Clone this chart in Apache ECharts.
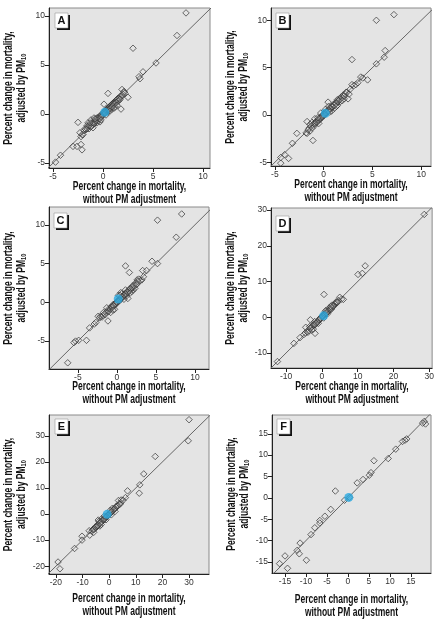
<!DOCTYPE html>
<html><head><meta charset="utf-8">
<script src="https://cdn.jsdelivr.net/npm/echarts@6/dist/echarts.min.js"></script>
<style>html,body{margin:0;padding:0;background:#fff}#c{width:437px;height:619px}</style>
</head><body><div id="c"></div>
<script>
// ---------- DATA ----------
const panelLabels = ['A', 'B', 'C', 'D', 'E', 'F'];

const ticksA = [-5, 0, 5, 10];
const ticksB = [-5, 0, 5, 10];
const ticksC = [-5, 0, 5, 10];
const ticksD = [-10, 0, 10, 20, 30];
const ticksE = [-20, -10, 0, 10, 20, 30];
const ticksF = [-15, -10, -5, 0, 5, 10, 15];

// points: [without PM adjustment, adjusted by PM10]
const pointsA = [
  [8.3,10.3],[7.4,8.0],[3.0,6.7],[5.3,5.2],[4.0,4.3],[3.6,3.8],[3.7,3.6],[2.5,1.7],[1.8,0.5],[0.5,2.1],
  [1.9,2.5],[2.1,2.3],[0.1,1.0],[-2.5,-0.85],[-1.5,-0.9],[-2.1,-2.1],[-2.2,-2.3],[-3.0,-3.3],[-2.6,-3.3],
  [-2.2,-3.1],[-2.1,-3.65],[-4.25,-4.2],[-4.75,-4.9],
  [-1.9,-1.7],[-1.7,-1.6],[-1.5,-1.3],[-1.4,-1.5],[-1.3,-1.1],[-1.2,-1.2],[-1.1,-0.9],[-1.0,-1.1],[-0.9,-0.8],
  [-0.8,-0.7],[-0.8,-0.9],[-0.7,-0.5],[-0.6,-0.6],[-0.5,-0.4],[-0.5,-0.7],[-0.4,-0.3],[-0.3,-0.2],[-0.3,-0.5],
  [-0.2,-0.1],[-0.1,-0.2],[0.0,0.1],[0.0,-0.1],[0.1,0.0],[0.2,0.3],[0.3,0.2],[0.4,0.5],[0.4,0.3],[0.5,0.6],
  [0.6,0.4],[0.6,0.7],[0.7,0.8],[0.8,0.6],[0.8,0.9],[0.9,1.0],[1.0,0.8],[1.0,1.1],[1.1,1.2],[1.2,1.0],
  [1.3,1.4],[1.4,1.3],[1.5,1.6],[1.6,1.4],[1.7,1.8],[1.8,1.7],[2.0,2.0],[2.2,2.1],[-2.0,-2.1],[-1.6,-1.2],
  [-1.2,-0.6],[-0.9,-0.4],[0.5,0.2],[0.9,0.5],[1.2,0.7],[0.3,-0.1],[-0.6,-0.9],[-0.3,-0.8],[-2.3,-1.9],[-1.0,-1.4],
  [-1.8,-1.5],[-1.6,-1.5],[-1.4,-1.2],[-1.2,-1.3],[-1.0,-0.9],[-0.9,-1.0],[-0.7,-0.7],[-0.6,-0.4],[-0.4,-0.5],
  [-0.2,-0.3],[0.1,0.2],[0.2,0.1],[0.3,0.4],[0.5,0.4],[0.6,0.5],[0.7,0.6],[0.8,0.7],[0.9,0.7],[1.0,0.9],
  [1.1,1.0],[1.2,1.2],[1.3,1.2],[1.4,1.5],[1.5,1.3],[1.6,1.6],[1.7,1.5],[1.9,1.9],[2.1,2.2],[-1.3,-0.9],
  [-0.8,-0.5],[-0.2,-0.6],[0.7,0.3],[1.1,0.6],[1.4,0.9]
];
const pointsB = [
  [7.2,10.6],[5.4,10.0],[2.9,5.85],[6.3,6.8],[6.2,6.1],[5.4,5.4],[4.5,3.7],[3.8,4.0],[4.0,3.9],[2.9,3.2],
  [2.5,1.7],[2.1,1.7],[1.4,1.0],[0.45,1.35],[-1.7,-0.7],[-2.75,-1.95],[-1.7,-1.95],[-1.4,-1.7],[-1.1,-2.7],
  [-3.2,-3.0],[-4.0,-4.2],[-3.6,-4.6],[-4.4,-4.5],[-4.4,-5.1],
  [-1.8,-1.9],[-1.5,-1.4],[-1.3,-1.2],[-1.1,-1.0],[-1.0,-1.2],[-0.9,-0.8],[-0.8,-0.9],[-0.7,-0.6],[-0.6,-0.7],
  [-0.5,-0.4],[-0.4,-0.5],[-0.3,-0.2],[-0.2,-0.3],[-0.1,0.0],[0.0,-0.1],[0.1,0.2],[0.2,0.1],[0.3,0.4],
  [0.4,0.3],[0.5,0.5],[0.6,0.7],[0.7,0.6],[0.8,0.9],[0.9,0.8],[1.0,1.1],[1.1,1.0],[1.2,1.3],[1.3,1.2],
  [1.5,1.5],[1.6,1.7],[1.8,1.9],[2.0,2.1],[2.2,2.2],[2.4,2.4],[1.7,1.4],[1.1,0.7],[0.8,0.4],[0.5,0.9],
  [-0.3,0.2],[-0.9,-0.4],[-1.2,-0.8],[-0.5,-0.9],[0.2,0.6],[1.4,1.6],[2.7,2.7],[3.1,3.1],
  [-1.6,-1.6],[-1.2,-1.4],[-0.95,-0.95],[-0.75,-0.75],[-0.55,-0.55],[-0.35,-0.35],[-0.15,-0.15],[0.05,0.05],
  [0.25,0.25],[0.45,0.4],[0.65,0.65],[0.85,0.85],[1.05,1.0],[1.25,1.2],[1.45,1.4],[1.65,1.6],[1.9,1.8],
  [2.1,2.0],[2.3,2.4],[1.9,1.5],[1.3,0.9],[0.6,0.3],[-0.6,-0.3],[-1.4,-1.0],[2.6,2.2],[3.3,3.2],[3.5,3.4]
];
const pointsC = [
  [8.3,11.4],[5.2,10.6],[7.6,8.4],[4.5,5.3],[5.2,5.0],[1.1,4.7],[1.6,3.85],[3.3,4.1],[3.8,4.1],[3.2,2.9],
  [2.6,2.9],[2.1,1.6],[1.4,0.5],[0.5,1.25],[-1.15,-2.4],[-2.4,-1.8],[-2.1,-1.8],[-3.5,-3.3],[-2.9,-2.8],
  [-3.9,-4.9],[-4.9,-4.9],[-5.3,-5.0],[-5.5,-5.2],[-6.3,-7.8],
  [-2.2,-2.0],[-1.9,-1.9],[-1.6,-1.5],[-1.4,-1.3],[-1.2,-1.1],[-1.0,-0.8],[-0.9,-1.0],[-0.7,-0.6],[-0.6,-0.7],
  [-0.5,-0.3],[-0.4,-0.5],[-0.2,-0.1],[-0.1,-0.2],[0.0,0.1],[0.1,0.0],[0.3,0.2],[0.4,0.5],[0.5,0.4],[0.6,0.7],
  [0.7,0.6],[0.8,0.9],[0.9,0.8],[1.0,1.1],[1.2,1.0],[1.3,1.4],[1.5,1.3],[1.6,1.7],[1.8,1.6],[2.0,2.1],
  [2.2,2.0],[2.4,2.5],[2.6,2.4],[2.8,3.0],[3.0,2.8],[1.9,1.4],[1.2,0.8],[0.6,1.1],[-0.8,-1.3],[-1.3,-0.7],
  [0.2,0.9],[1.1,1.6],[2.3,1.8],[-0.3,-0.9],[0.9,0.4],
  [-1.8,-1.7],[-1.5,-1.6],[-1.1,-1.2],[-0.85,-0.85],[-0.65,-0.55],[-0.45,-0.45],[-0.25,-0.25],[-0.05,0.0],
  [0.15,0.15],[0.35,0.3],[0.55,0.55],[0.75,0.75],[0.95,0.95],[1.15,1.15],[1.35,1.3],[1.55,1.5],[1.75,1.8],
  [1.95,1.9],[2.15,2.2],[2.5,2.3],[2.7,2.7],[1.7,1.2],[0.4,0.9],[-0.5,-1.0],[-1.7,-1.3],[3.4,3.3],[-2.7,-2.6]
];
const pointsD = [
  [28.6,28.8],[12.1,14.4],[10.1,12.0],[11.3,12.3],[0.6,6.4],[5.5,5.1],[6.0,5.0],[5.0,5.6],[-2.4,-3.3],
  [-1.9,-4.5],[-3.2,-0.7],[-4.5,-2.8],[-6.1,-5.7],[-7.8,-7.3],[-12.4,-12.4],
  [-5.0,-4.8],[-4.2,-4.0],[-3.6,-3.8],[-3.0,-2.9],[-2.6,-2.4],[-2.2,-2.3],[-1.8,-1.7],[-1.5,-1.6],[-1.2,-1.1],
  [-0.9,-1.0],[-0.6,-0.5],[-0.3,-0.4],[0.0,0.1],[0.3,0.2],[0.6,0.7],[0.9,0.8],[1.2,1.3],[1.5,1.4],[1.8,1.9],
  [2.1,2.0],[2.4,2.5],[2.7,2.6],[3.0,3.1],[3.4,3.3],[3.8,3.9],[4.2,4.1],[4.6,4.7],[1.0,1.6],[2.0,2.6],
  [-1.0,-1.7],[-2.0,-1.2],[0.5,-0.2],[-3.4,-2.6],[1.6,1.0],[2.8,3.4],
  [-4.6,-4.4],[-3.9,-4.2],[-3.3,-3.1],[-2.8,-2.7],[-2.3,-2.0],[-1.9,-2.1],[-1.3,-1.4],[-0.8,-0.7],[-0.4,-0.2],
  [0.2,0.4],[0.8,1.0],[1.3,1.1],[1.7,1.6],[2.2,2.3],[2.6,2.2],[3.2,3.0],[3.6,3.7],[4.0,4.3],[4.4,4.2],
  [1.1,1.9],[2.5,3.0],[-2.8,-3.6]
];
const pointsE = [
  [30.0,36.2],[29.7,28.1],[17.3,22.1],[13.0,15.4],[11.5,11.2],[11.3,8.0],[6.9,8.9],[6.1,6.3],[4.5,5.4],
  [3.5,5.2],[-10.2,-8.5],[-10.2,-10.0],[-13.0,-13.2],[-19.2,-18.4],[-18.5,-21.0],[-7.5,-6.4],[-7.3,-8.1],
  [-4.1,-2.3],[-4.8,-4.9],[-3.5,-4.6],
  [-6.5,-6.6],[-6.0,-5.8],[-5.5,-5.6],[-5.0,-5.2],[-4.5,-4.3],[-4.0,-4.1],[-3.5,-3.4],[-3.0,-3.2],[-2.5,-2.4],
  [-2.0,-2.1],[-1.5,-1.4],[-1.0,-1.2],[-0.5,-0.4],[0.0,-0.1],[0.5,0.6],[1.0,0.9],[1.5,1.7],[2.0,1.9],
  [2.5,2.7],[3.0,3.0],[3.8,4.0],[4.4,4.3],[5.2,5.3],[-2.8,-1.8],[-1.2,-2.2],[1.2,2.2],[2.2,1.0],[-5.8,-7.0],
  [-3.8,-2.8],[0.8,-0.3],
  [-6.2,-6.0],[-5.7,-5.9],[-5.2,-5.0],[-4.7,-4.7],[-4.2,-4.5],[-3.7,-3.6],[-3.2,-3.0],[-2.7,-2.9],[-2.2,-2.0],
  [-1.7,-1.9],[-1.2,-1.0],[-0.7,-0.8],[-0.2,-0.3],[0.3,0.2],[0.7,0.8],[1.3,1.2],[1.8,1.9],[2.3,2.2],
  [2.8,3.0],[3.3,3.2],[4.0,3.7],[-3.0,-4.0],[-1.8,-0.8],[0.4,1.4]
];
const pointsF = [
  [18.2,17.9],[18.5,17.3],[17.8,17.5],[14.0,13.8],[13.6,13.5],[13.0,13.2],[11.4,11.4],[9.6,9.2],[6.2,8.7],
  [5.5,5.9],[5.1,5.3],[3.6,4.3],[2.2,3.5],[0.4,0.1],[-0.8,-0.55],[-3.0,1.6],[-4.1,-2.7],[-5.5,-4.3],
  [-6.7,-5.3],[-6.7,-5.9],[-7.9,-7.0],[-8.8,-8.6],[-11.4,-10.6],[-12.1,-12.3],[-11.6,-13.1],[-9.9,-14.6],
  [-15.0,-13.6],[-16.3,-15.4],[-14.4,-16.5]
];

// pooled estimate (blue dot)
const meanA = [[0.17, 0.17]];
const meanB = [[0.17, 0.18]];
const meanC = [[0.17, 0.43]];
const meanD = [[0.5, 0.4]];
const meanE = [[-0.75, -0.1]];
const meanF = [[0.2, 0.1]];

const xTitle = 'Percent change in mortality,\nwithout PM adjustment';
const yTitle = 'Percent change in mortality,\nadjusted by PM{sub|10}';

// ---------- LAYOUT ----------
const panels = [
  {label: panelLabels[0], pts: pointsA, mean: meanA, ticks: ticksA, left: 49, top: 8, width: 161, height: 160, x: [-5.4, 10.7], y: [-5.5, 10.8], titleDY: 25, box: [55, 13]},
  {label: panelLabels[1], pts: pointsB, mean: meanB, ticks: ticksB, left: 271, top: 8, width: 160, height: 158, x: [-5.4, 11.0], y: [-5.4, 11.3], titleDY: 25, box: [276, 13]},
  {label: panelLabels[2], pts: pointsC, mean: meanC, ticks: ticksC, left: 49, top: 207, width: 160, height: 162, x: [-8.7, 11.8], y: [-8.6, 12.3], titleDY: 24, box: [54, 213]},
  {label: panelLabels[3], pts: pointsD, mean: meanD, ticks: ticksD, left: 271, top: 208, width: 162, height: 160, x: [-14.2, 30.8], y: [-14.2, 30.6], titleDY: 25, box: [276, 216]},
  {label: panelLabels[4], pts: pointsE, mean: meanE, ticks: ticksE, left: 49, top: 415, width: 160, height: 159, x: [-22.6, 37.5], y: [-23, 38], titleDY: 31, box: [55, 419]},
  {label: panelLabels[5], pts: pointsF, mean: meanF, ticks: ticksF, left: 272, top: 415, width: 159, height: 158, x: [-18.1, 19.8], y: [-17.6, 19.4], titleDY: 33, box: [277, 419]}
];

const FONT = "'Liberation Sans Narrow','Liberation Sans',Arial,sans-serif";
const NARROW = 0.71;

const grid = [], xAxis = [], yAxis = [], series = [], graphic = [];
panels.forEach((p, i) => {
  grid.push({left: p.left, top: p.top, width: p.width, height: p.height, show: true,
    backgroundColor: '#e4e4e4', borderColor: '#8a8a8a', borderWidth: 1});
  const axisCommon = {
    gridIndex: i, type: 'value', splitLine: {show: false},
    axisLine: {show: true, onZero: false, lineStyle: {color: '#222', width: 1}},
    axisTick: {show: true, inside: false, length: 4, customValues: p.ticks, lineStyle: {color: '#222'}},
    axisLabel: {customValues: p.ticks, fontFamily: FONT, fontSize: 8.5, color: '#333', margin: 4}
  };
  xAxis.push(Object.assign({}, axisCommon, {min: p.x[0], max: p.x[1]}));
  yAxis.push(Object.assign({}, axisCommon, {min: p.y[0], max: p.y[1]}));
  const lo = Math.min(p.x[0], p.y[0]), hi = Math.max(p.x[1], p.y[1]);
  series.push({type: 'line', xAxisIndex: i, yAxisIndex: i, data: [[lo, lo], [hi, hi]], showSymbol: false,
    symbol: 'none', clip: true, silent: true, lineStyle: {color: '#666', width: 1}, z: 1});
  series.push({type: 'scatter', xAxisIndex: i, yAxisIndex: i, data: p.pts, symbol: 'diamond', symbolSize: [6.5, 6.5],
    itemStyle: {color: 'rgba(228,228,228,0.2)', borderColor: '#333', borderWidth: 0.9}, z: 2, silent: true});
  series.push({type: 'scatter', xAxisIndex: i, yAxisIndex: i, data: p.mean, symbol: 'circle', symbolSize: 9,
    itemStyle: {color: '#2aa9e0'}, z: 3, silent: true});
  // panel letter box
  graphic.push({type: 'group', x: p.box[0], y: p.box[1], children: [
    {type: 'rect', shape: {x: 2, y: 2, width: 13, height: 15}, style: {fill: '#111'}},
    {type: 'rect', shape: {x: 0, y: 0, width: 13, height: 15}, style: {fill: '#fff', stroke: '#999', lineWidth: 0.6}},
    {type: 'text', x: 6.5, y: 8, style: {text: p.label, fontFamily: FONT, fontWeight: 'bold', fontSize: 11,
      fill: '#111', align: 'center', verticalAlign: 'middle'}}
  ]});
  // axis titles
  const titleStyle = {fontFamily: FONT, fontWeight: 'bold', fontSize: 12, lineHeight: 13, fill: '#111',
    align: 'center', verticalAlign: 'middle'};
  graphic.push({type: 'text', x: p.left + p.width / 2, y: p.top + p.height + p.titleDY, scaleX: NARROW,
    style: Object.assign({text: xTitle}, titleStyle)});
  graphic.push({type: 'text', x: p.left - 34, y: p.top + p.height / 2, rotation: Math.PI / 2, scaleX: NARROW,
    style: Object.assign({text: yTitle, rich: {sub: {fontFamily: FONT, fontWeight: 'bold', fontSize: 8,
      fill: '#111', padding: [5, 0, 0, 0]}}}, titleStyle)});
});

const chart = echarts.init(document.getElementById('c'), null, {renderer: 'canvas'});
chart.setOption({animation: false, backgroundColor: '#fff', grid, xAxis, yAxis, series, graphic});
</script>
</body></html>
